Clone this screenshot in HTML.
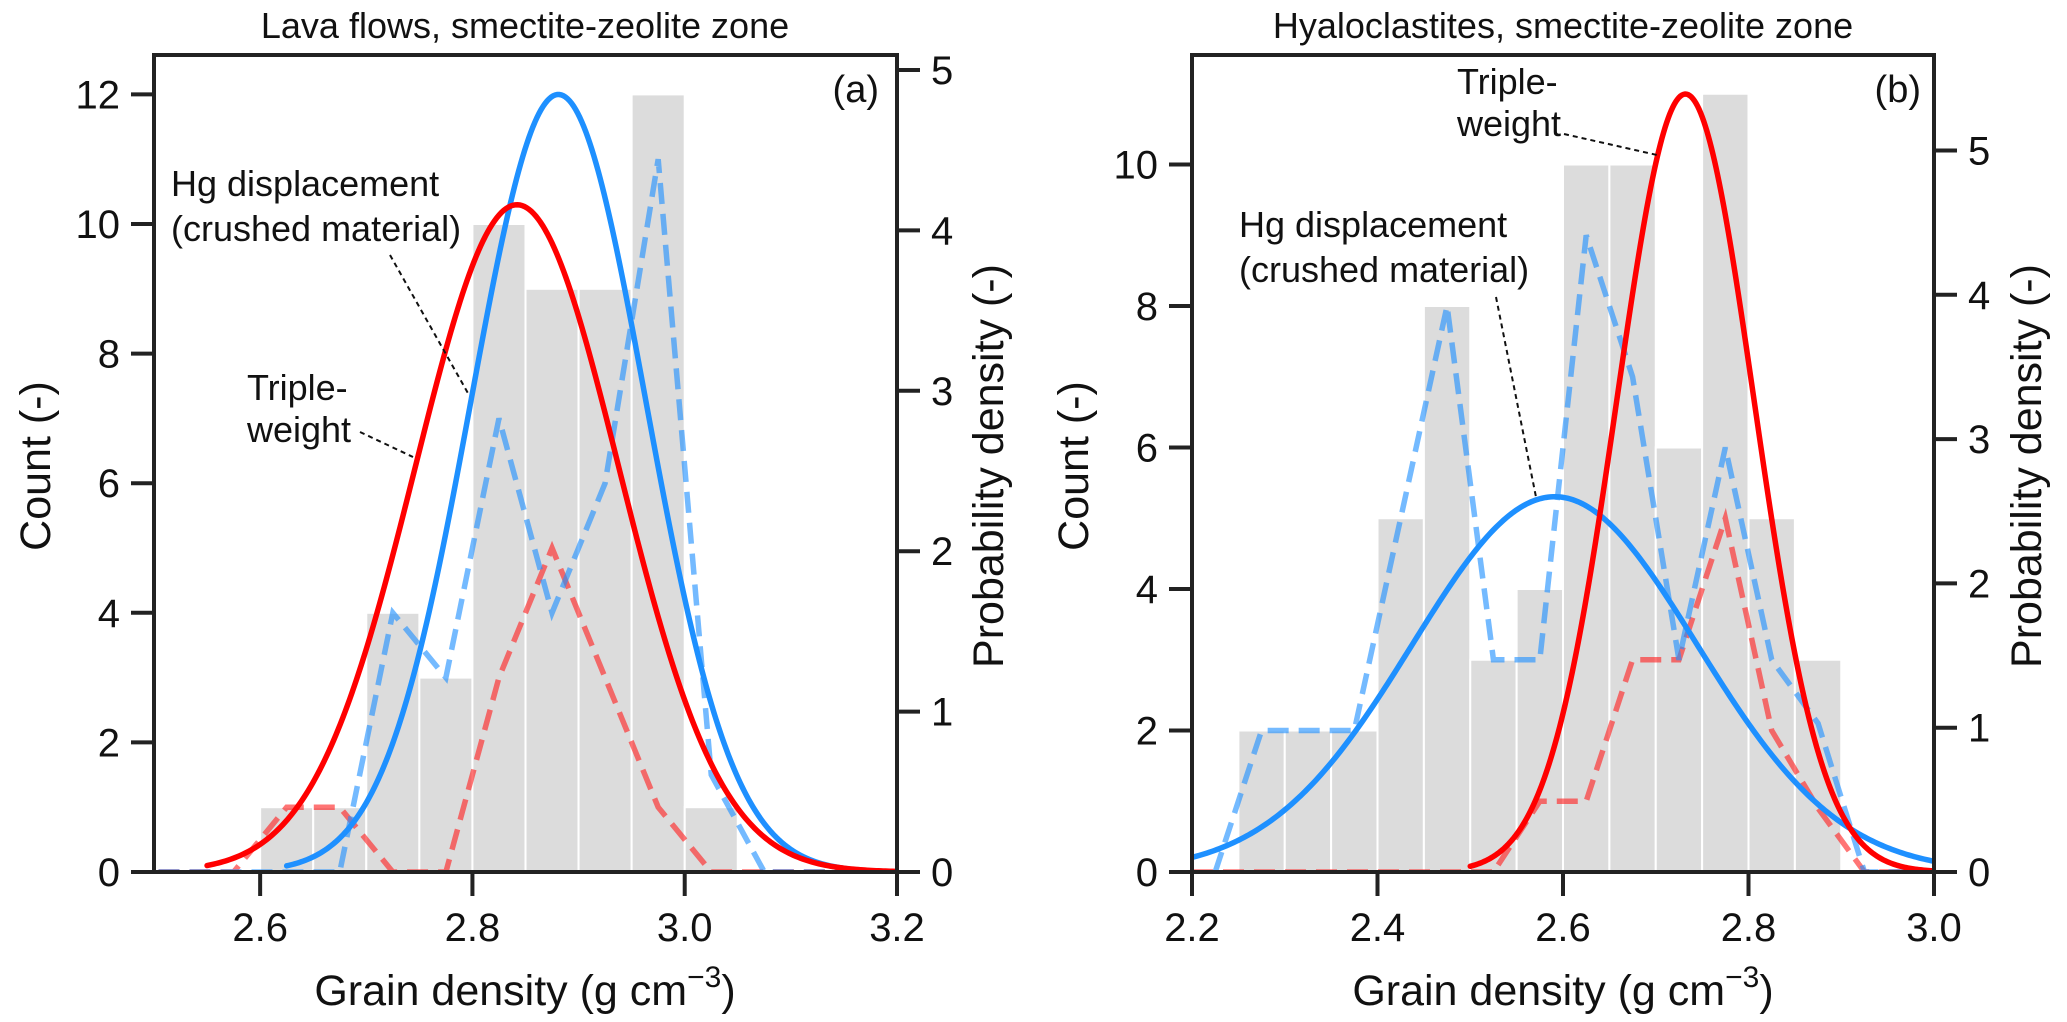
<!DOCTYPE html>
<html><head><meta charset="utf-8"><style>
html,body{margin:0;padding:0;background:#fff;}
svg{display:block;font-family:"Liberation Sans",Arial,sans-serif;}
</style></head><body>
<svg id="fig" width="2067" height="1022" viewBox="0 0 2067 1022" xmlns="http://www.w3.org/2000/svg"></svg>
<script>
// ---------- Panel (a) data ----------
const aBinEdges = [2.60,2.65,2.70,2.75,2.80,2.85,2.90,2.95,3.00,3.05];
const aCounts = [1,1,4,3,10,9,9,12,1];
const aBlueDashX = [2.475,2.675,2.725,2.775,2.825,2.875,2.925,2.975,3.025,3.075,3.225];
const aBlueDashY = [0,0,4,3,7,4,6,11,1.5,0,0];
const aRedDashX = [2.475,2.575,2.625,2.675,2.725,2.775,2.825,2.875,2.975,3.025,3.225];
const aRedDashY = [0,0,1,1,0,0,3,5,1,0,0];
const aFitMu = [2.881, 2.842];      // blue (Hg), red (triple-weight)
const aFitSigma = [0.0823, 0.0959];
const aFitRange = [[2.625,3.2],[2.55,3.2]];
const aXTicks = [2.6,2.8,3.0,3.2];
const aXTickLabels = ["2.6","2.8","3.0","3.2"];
const aYTicks = [0,2,4,6,8,10,12];
const aY2Ticks = [0,1,2,3,4,5];

// ---------- Panel (b) data ----------
const bBinEdges = [2.25,2.30,2.35,2.40,2.45,2.50,2.55,2.60,2.65,2.70,2.75,2.80,2.85,2.90];
const bCounts = [2,2,2,5,8,3,4,10,10,6,11,5,3];
const bBlueDashX = [2.225,2.275,2.325,2.375,2.425,2.475,2.525,2.575,2.625,2.675,2.725,2.775,2.825,2.875,2.925,3.0];
const bBlueDashY = [0,2,2,2,5,8,3,3,9,7,3,6,3,2.1,0,0];
const bRedDashX = [2.2,2.525,2.575,2.625,2.675,2.725,2.775,2.825,2.875,2.925,3.0];
const bRedDashY = [0,0,1,1,3,3,5,2,0.9,0,0];
const bFitMu = [2.591, 2.732];
const bFitSigma = [0.1534, 0.074];
const bFitRange = [[2.2,3.0],[2.5,3.0]];
const bXTicks = [2.2,2.4,2.6,2.8,3.0];
const bXTickLabels = ["2.2","2.4","2.6","2.8","3.0"];
const bYTicks = [0,2,4,6,8,10];
const bY2Ticks = [0,1,2,3,4,5];

const NS="http://www.w3.org/2000/svg";
const svg=document.getElementById('fig');
function mk(tag,attrs,parent){const e=document.createElementNS(NS,tag);for(const k in attrs)e.setAttribute(k,attrs[k]);(parent||svg).appendChild(e);return e;}

function panel(cfg){
  const g=mk('g',{});
  
  
  const X=v=>cfg.L+(v-cfg.x0)/(cfg.x1-cfg.x0)*(cfg.R-cfg.L);
  const Y=v=>cfg.B-v*cfg.cpx;
  const Y2=v=>cfg.B-v*cfg.dpx;
  const clipId=cfg.id+'-clip';
  const defs=mk('defs',{},g);
  const cp=mk('clipPath',{id:clipId},defs);
  mk('rect',{x:cfg.L,y:cfg.T,width:cfg.R-cfg.L,height:cfg.B-cfg.T},cp);
  const plot=mk('g',{'clip-path':'url(#'+clipId+')'},g);
  for(let i=0;i<cfg.counts.length;i++){
    const x0=X(cfg.edges[i]),x1=X(cfg.edges[i+1]);
    const r=mk('rect',{x:x0,y:Y(cfg.counts[i]),width:x1-x0,height:Y(0)-Y(cfg.counts[i]),fill:'#dcdcdc',stroke:'#ffffff','stroke-width':2},plot);
    
    
  }
  const dash=(xs,ys,col,name)=>{
    const p=mk('polyline',{points:xs.map((x,i)=>X(x)+','+Y(ys[i])).join(' '),fill:'none',stroke:col,'stroke-opacity':0.62,'stroke-width':5.5,'stroke-dasharray':'21,10'},plot);
    
    
  };
  dash(cfg.rdx,cfg.rdy,'#ff2020','triple-weight-kde-dashed');
  dash(cfg.bdx,cfg.bdy,'#1e90ff','hg-displacement-kde-dashed');
  const cols=['#1e90ff','#ff0000'];const names=['hg-displacement-fit','triple-weight-fit'];
  for(const k of [0,1]){
    const pts=[];const [a,b]=cfg.range[k];
    for(let i=0;i<=300;i++){const x=a+(b-a)*i/300;const d=Math.exp(-0.5*((x-cfg.mu[k])/cfg.sig[k])**2)/(cfg.sig[k]*Math.sqrt(2*Math.PI));pts.push(X(x)+','+Y2(d));}
    const p=mk('polyline',{points:pts.join(' '),fill:'none',stroke:cols[k],'stroke-width':5.5,'stroke-linecap':'round'},plot);
    
    
  }
  const fr=mk('rect',{x:cfg.L,y:cfg.T,width:cfg.R-cfg.L,height:cfg.B-cfg.T,fill:'none',stroke:'#222','stroke-width':4},g);
  
  
  cfg.xt.forEach((v,i)=>{
    mk('line',{x1:X(v),x2:X(v),y1:cfg.B,y2:cfg.B+24,stroke:'#222','stroke-width':4},g);
    const t=mk('text',{x:X(v),y:941,'font-size':40,'text-anchor':'middle',fill:'#111'},g);
    t.textContent=cfg.xtl[i];
    
    
  });
  cfg.yt.forEach(v=>{
    mk('line',{x1:cfg.L-23,x2:cfg.L,y1:Y(v),y2:Y(v),stroke:'#222','stroke-width':4},g);
    const t=mk('text',{x:cfg.L-34,y:Y(v)+14,'font-size':40,'text-anchor':'end',fill:'#111'},g);
    t.textContent=String(v);
    
    
  });
  cfg.y2t.forEach(v=>{
    mk('line',{x1:cfg.R,x2:cfg.R+23,y1:Y2(v),y2:Y2(v),stroke:'#222','stroke-width':4},g);
    const t=mk('text',{x:cfg.R+34,y:Y2(v)+14,'font-size':40,fill:'#111'},g);
    t.textContent=String(v);
    
    
  });
  return {g,X,Y};
}

const pa=panel({id:'panel-a',L:154,R:897,T:55,B:872,x0:2.5,x1:3.2,cpx:64.8,dpx:160.4,edges:aBinEdges,counts:aCounts,
  bdx:aBlueDashX,bdy:aBlueDashY,rdx:aRedDashX,rdy:aRedDashY,mu:aFitMu,sig:aFitSigma,range:aFitRange,
  xt:aXTicks,xtl:aXTickLabels,yt:aYTicks,y2t:aY2Ticks});
const pb=panel({id:'panel-b',L:1192,R:1934,T:55,B:872,x0:2.2,x1:3.0,cpx:70.75,dpx:144.3,edges:bBinEdges,counts:bCounts,
  bdx:bBlueDashX,bdy:bBlueDashY,rdx:bRedDashX,rdy:bRedDashY,mu:bFitMu,sig:bFitSigma,range:bFitRange,
  xt:bXTicks,xtl:bXTickLabels,yt:bYTicks,y2t:bY2Ticks});
</script>
<script>
(function(){
const s=document.getElementById('fig');
s.insertAdjacentHTML('beforeend',`
<text x="525" y="38" font-size="36" text-anchor="middle" fill="#111">Lava flows, smectite-zeolite zone</text>
<text x="1563" y="38" font-size="36" text-anchor="middle" fill="#111">Hyaloclastites, smectite-zeolite zone</text>
<text x="879" y="102" font-size="38" text-anchor="end" fill="#111">(a)</text>
<text x="1921" y="102" font-size="38" text-anchor="end" fill="#111">(b)</text>
<text transform="translate(50,466) rotate(-90)" font-size="43" text-anchor="middle" fill="#111">Count (-)</text>
<text transform="translate(1003,466) rotate(-90)" font-size="43" text-anchor="middle" fill="#111">Probability density (-)</text>
<text transform="translate(1088,466) rotate(-90)" font-size="43" text-anchor="middle" fill="#111">Count (-)</text>
<text transform="translate(2041,466) rotate(-90)" font-size="43" text-anchor="middle" fill="#111">Probability density (-)</text>
<text x="525" y="1005" font-size="43" text-anchor="middle" fill="#111">Grain density (g cm<tspan dy="-18" font-size="30">−3</tspan><tspan dy="18">)</tspan></text>
<text x="1563" y="1005" font-size="43" text-anchor="middle" fill="#111">Grain density (g cm<tspan dy="-18" font-size="30">−3</tspan><tspan dy="18">)</tspan></text>
<g font-size="36" fill="#111">
<text x="171" y="196">Hg displacement</text>
<text x="171" y="241">(crushed material)</text>
<text x="247" y="400">Triple-</text>
<text x="247" y="442">weight</text>
<text x="1457" y="94">Triple-</text>
<text x="1457" y="136">weight</text>
<text x="1239" y="237">Hg displacement</text>
<text x="1239" y="282">(crushed material)</text>
</g>
<g stroke="#111" stroke-width="2" stroke-dasharray="5,4" fill="none">
<line x1="390" y1="255" x2="469" y2="395"/>
<line x1="360" y1="432" x2="413" y2="457"/>
<line x1="1564" y1="134" x2="1657" y2="155"/>
<line x1="1496" y1="297" x2="1536" y2="497"/>
</g>`);
})();
</script>
</body></html>
